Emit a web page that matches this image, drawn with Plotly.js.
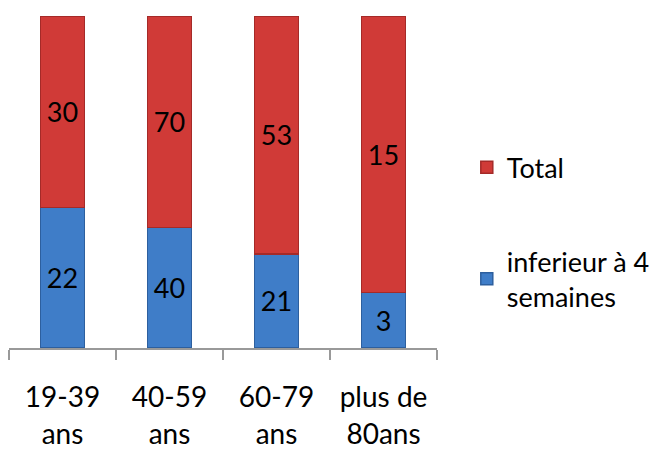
<!DOCTYPE html>
<html><head><meta charset="utf-8">
<script src="https://cdn.plot.ly/plotly-3.0.1.min.js"></script>
<style>body{margin:0;background:#fff}#c{width:664px;height:450px}</style>
</head><body><div id="c"></div>
<script>
const categories = ["19-39<br>ans", "40-59<br>ans", "60-79<br>ans", "plus de<br>80ans"];
const inferieur = [22, 40, 21, 3];
const total = [30, 70, 53, 15];
const seriesNames = ["inferieur à 4<br>semaines", "Total"];

const font = "Lato, 'Open Sans', sans-serif";
const traces = [
  {type:'bar', name: seriesNames[0], x: categories, y: inferieur, text: inferieur.map(String),
   textposition:'inside', insidetextanchor:'middle', textangle:0,
   textfont:{size:27, color:'#000', family:font},
   marker:{color:'#3f7dc8', line:{color:'#2d5f9e', width:1.5}},
   width:0.41, legendgroup:'a', legendrank:2, hoverinfo:'skip'},
  {type:'bar', name: seriesNames[1], x: categories, y: total, text: total.map(String),
   textposition:'inside', insidetextanchor:'middle', textangle:0,
   textfont:{size:27, color:'#000', family:font},
   marker:{color:'#d03a37', line:{color:'#a52a28', width:1.5}},
   width:0.41, legendgroup:'b', legendrank:1, hoverinfo:'skip'}
];
const layout = {
  width:664, height:450,
  margin:{l:9, r:227, t:16, b:102},
  barmode:'stack', barnorm:'percent',
  paper_bgcolor:'#fff', plot_bgcolor:'#fff',
  font:{family:font, size:27, color:'#000'},
  showlegend:true,
  legend:{xref:'container', yref:'container', x:0.703, xanchor:'left', y:0.682, yanchor:'top',
          traceorder:'grouped', tracegroupgap:56,
          font:{size:27, family:font, color:'#000'}, itemwidth:30, bgcolor:'rgba(0,0,0,0)'},
  xaxis:{showline:true, linecolor:'#999', linewidth:1.5, ticks:'outside', tickson:'boundaries',
         ticklen:10, tickcolor:'#999', tickwidth:1.5, tickfont:{size:28, family:font},
         ticklabelstandoff:24, showgrid:false, zeroline:false, automargin:false},
  yaxis:{visible:false, range:[0,100], showgrid:false, zeroline:false}
};
Plotly.newPlot('c', traces, layout, {staticPlot:true, displayModeBar:false});
</script></body></html>
